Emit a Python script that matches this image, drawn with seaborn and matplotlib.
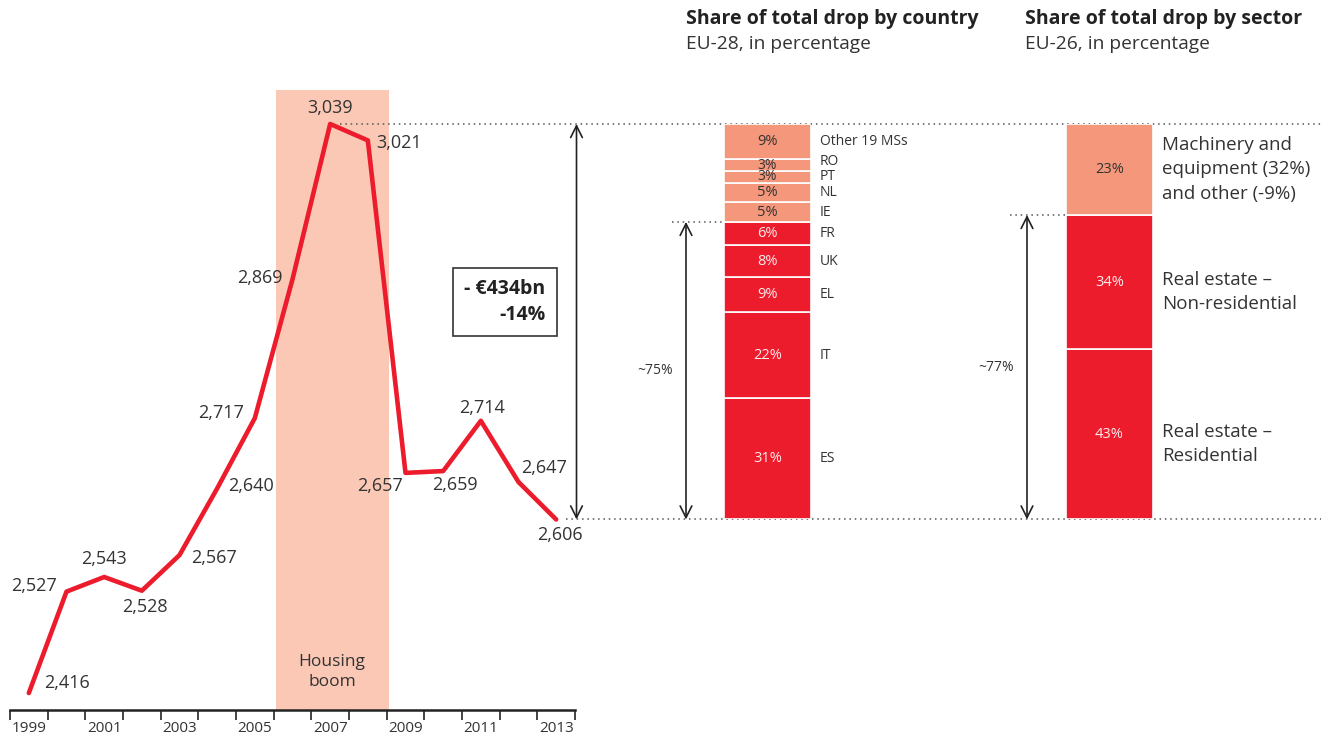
import numpy as np
import pandas as pd
import seaborn as sns
import matplotlib.pyplot as plt

# Line chart data (EUR bn)
years = list(range(1999, 2014))
investment = [2416, 2527, 2543, 2528, 2567, 2640, 2717, 2869, 3039, 3021,
              2657, 2659, 2714, 2647, 2606]
# label offsets in pixels (dx, dy up)
label_offsets = [(38, 10), (-32, 6), (0, 18), (3, -16), (34, -3), (34, 2),
                 (-34, 5), (-33, 1), (0, 16), (31, -3), (-25, -13), (12, -14),
                 (1, 13), (26, 14), (4, -16)]
boom_start, boom_end = 2005.55, 2008.55
drop_text = '- €434bn\n-14%'

# Stacked bars: bottom to top
countries = ['ES', 'IT', 'EL', 'UK', 'FR', 'IE', 'NL', 'PT', 'RO', 'Other 19 MSs']
country_share = [31, 22, 9, 8, 6, 5, 5, 3, 3, 9]
country_core = 5          # first five make the ~75% bracket

sectors = ['Real estate –\nResidential', 'Real estate –\nNon-residential',
           'Machinery and\nequipment (32%)\nand other (-9%)']
sector_share = [43, 34, 23]
sector_core = 2

RED = '#ED1C2C'
SALMON = '#F4977B'
SHADE = '#FAC8B5'
TXT = '#333333'

sns.set_theme(style='white')
plt.rcParams['font.family'] = ['Open Sans', 'DejaVu Sans']

W, H = 1339, 740
fig = plt.figure(figsize=(W / 100, H / 100), dpi=100)

# ---- line chart ----
line_box = [10 / W, 30 / H, 565 / W, 620 / H]
ylo, yhi = 2397.4, 3076.2
ax = fig.add_axes(line_box)
ax.set_facecolor('none')
df = pd.DataFrame({'year': years, 'value': investment})
ax.axvspan(boom_start, boom_end, color=SHADE, lw=0, zorder=0)
sns.lineplot(data=df, x='year', y='value', ax=ax, color=RED, linewidth=3.3, zorder=3)
ax.set_xlim(1998.5, 2013.5)
ax.set_ylim(ylo, yhi)
ax.set_xlabel('')
ax.set_ylabel('')
ax.set_yticks([])
for s in ['left', 'right', 'top']:
    ax.spines[s].set_visible(False)
ax.spines['bottom'].set_color('#222222')
ax.spines['bottom'].set_linewidth(1.8)
ax.set_xticks(years[::2])
ax.set_xticklabels([str(y) for y in years[::2]], fontsize=11, color=TXT)
ax.set_xticks(np.arange(1998.5, 2014, 1), minor=True)
ax.tick_params(axis='x', which='major', length=0, pad=8)
ax.tick_params(axis='x', which='minor', length=7, width=1.2, color='#222222',
               direction='out', bottom=True)

for x, v, (dx, dy) in zip(years, investment, label_offsets):
    ax.annotate(f'{v:,}', (x, v), xytext=(dx, dy), textcoords='offset pixels',
                ha='center', va='center', fontsize=13, color=TXT)

ax.text((boom_start + boom_end) / 2, 0.061, 'Housing\nboom', ha='center', va='center',
        fontsize=12.5, color=TXT, linespacing=1.3, transform=ax.get_xaxis_transform())

top, bottom = max(investment), investment[-1]
dot = dict(color='#555555', lw=1.1, ls=(0, (1, 2.5)), clip_on=False, zorder=1)
ax.plot([2007.25, 2033.3], [top, top], **dot)
ax.plot([2013.25, 2033.3], [bottom, bottom], **dot)
arrow = dict(arrowstyle='<->,head_length=0.7,head_width=0.35', color='#222222',
             lw=1.2, shrinkA=0, shrinkB=0)
ax.annotate('', xy=(2013.54, bottom), xytext=(2013.54, top), arrowprops=arrow,
            annotation_clip=False)
ax.text(2011.64, 2844, drop_text,
        ha='center', va='center', multialignment='right', fontsize=14,
        fontweight='bold', color='#222222', linespacing=1.35,
        bbox=dict(boxstyle='square,pad=0.6', fc='white', ec='#333333', lw=1.2))


def fy(v):
    return line_box[1] + (v - ylo) / (yhi - ylo) * line_box[3]


def stack(left_px, shares, names, core, label_size, bracket_text, dot_px, arrow_px, text_px):
    bax = fig.add_axes([left_px / W, fy(bottom), 87 / W, fy(top) - fy(bottom)])
    bax.set_facecolor('none')
    total = sum(shares)
    cum = np.concatenate([[0], np.cumsum(shares)])
    # side label positions, pushed apart a little where segments are thin
    ypos = []
    for i, s in enumerate(shares):
        y = cum[i] + s / 2
        if ypos and y - ypos[-1] < 3.8:
            y = ypos[-1] + 3.8
        ypos.append(y)
    for i, (s, name) in enumerate(zip(shares, names)):
        col = RED if i < core else SALMON
        bax.bar(0, s, bottom=cum[i], width=0.8, color=col, edgecolor='white', linewidth=1.2)
        mid = cum[i] + s / 2
        bax.text(0, mid, f'{s}%', ha='center', va='center', fontsize=10.5 if s > 3 else 10,
                 color='#FDECEC' if i < core else TXT)
        bax.text(0.483, ypos[i] - (2.5 if label_size > 11 and i < core else 0), name,
                 ha='left', va='center', fontsize=label_size, color=TXT,
                 linespacing=1.45 if label_size > 11 else 1.2)
    bax.set_xlim(-0.4, 0.4)
    bax.set_ylim(0, total)
    bax.axis('off')
    px = 0.8 / 87
    lvl = cum[core]
    bax.plot([-0.4 - dot_px * px, -0.4], [lvl, lvl], color='#555555', lw=1.1,
             ls=(0, (1, 2.5)), clip_on=False)
    bax.annotate('', xy=(-0.4 - arrow_px * px, 0), xytext=(-0.4 - arrow_px * px, lvl),
                 arrowprops=arrow, annotation_clip=False)
    bax.text(-0.4 - text_px * px, lvl / 2, bracket_text, ha='center', va='center',
             fontsize=10, color=TXT)
    return bax


stack(724, country_share, countries, country_core, 10, '~75%', 52, 38, 69)
stack(1066, sector_share, sectors, sector_core, 13.5, '~77%', 56, 39, 70)

for x0, sub in [(686, 'EU-28, in percentage'), (1025, 'EU-26, in percentage')]:
    title = 'Share of total drop by country' if x0 == 686 else 'Share of total drop by sector'
    fig.text(x0 / W, 1 - 19 / H, title, fontsize=14, fontweight='bold',
             color='#222222', va='center', ha='left')
    fig.text(x0 / W, 1 - 44 / H, sub, fontsize=13.8, color=TXT, va='center', ha='left')

fig.savefig('out.png', dpi=100, facecolor='white')
